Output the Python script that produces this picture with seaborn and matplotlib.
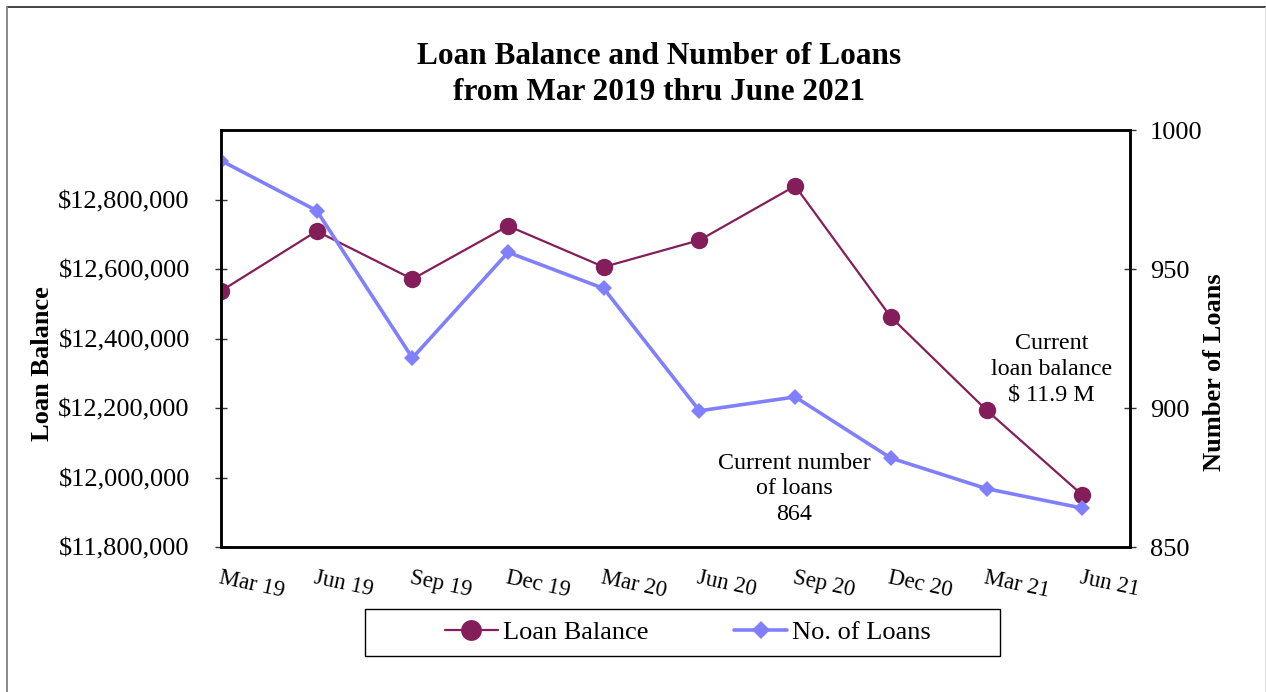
import matplotlib
matplotlib.use("Agg")
import matplotlib.pyplot as plt
from matplotlib.lines import Line2D
from matplotlib.patches import Rectangle
from matplotlib.ticker import FuncFormatter, FixedLocator
import seaborn as sns
import pandas as pd

# Quarterly data
periods = ["Mar 19", "Jun 19", "Sep 19", "Dec 19", "Mar 20",
           "Jun 20", "Sep 20", "Dec 20", "Mar 21", "Jun 21"]
loan_balance = [12537000, 12709000, 12571000, 12724000, 12606000,
                12683000, 12839000, 12462000, 12194000, 11950000]
num_loans = [989, 971, 918, 956, 943, 899, 904, 882, 871, 864]

balance_ticks = [11800000, 12000000, 12200000, 12400000, 12600000, 12800000]
loan_ticks = [850, 900, 950, 1000]

df = pd.DataFrame({"period": periods, "pos": range(len(periods)),
                   "balance": loan_balance, "loans": num_loans})

sns.set_style("white")
plt.rcParams["font.family"] = ["Liberation Serif", "DejaVu Serif"]
plt.rcParams["text.color"] = "black"
plt.rcParams["axes.labelcolor"] = "black"
plt.rcParams["xtick.color"] = "black"
plt.rcParams["ytick.color"] = "black"

bal_color = "#841E5A"
loan_color = "#8080FF"

fig = plt.figure(figsize=(12.66, 6.92), dpi=100)
ax = fig.add_axes([0.1746, 0.2095, 0.718, 0.6026])
ax2 = ax.twinx()

sns.lineplot(data=df, x="pos", y="balance", ax=ax, color=bal_color,
             linewidth=1.6, marker="o", markersize=12.5,
             markeredgecolor=bal_color, markeredgewidth=0, legend=False)
sns.lineplot(data=df, x="pos", y="loans", ax=ax2, color=loan_color,
             linewidth=2.6, marker="D", markersize=8.5,
             markeredgecolor=loan_color, markeredgewidth=0, legend=False)

ax.set_xlim(0, 9.5)
ax.set_ylim(11800000, 13000000)
ax2.set_ylim(850, 1000)

ax.xaxis.set_major_locator(FixedLocator(list(df["pos"])))
ax.set_xticklabels(periods, rotation=-12, ha="left", rotation_mode="anchor",
                   fontsize=16.5)
ax.yaxis.set_major_locator(FixedLocator(balance_ticks))
ax.yaxis.set_major_formatter(FuncFormatter(lambda v, p: f"${v:,.0f}"))
ax2.yaxis.set_major_locator(FixedLocator(loan_ticks))

ax.tick_params(axis="y", labelsize=19, direction="inout", length=9,
               width=1, color="#333333", pad=18)
ax.tick_params(axis="x", direction="inout", length=9, width=1,
               color="#333333", pad=10)
ax2.tick_params(axis="y", labelsize=19, direction="inout", length=9,
                width=1, color="#333333", pad=10)

for a in (ax, ax2):
    for s in a.spines.values():
        s.set_linewidth(1.8)
        s.set_color("black")
        s.set_visible(True)

ax.set_xlabel("")
ax.set_ylabel("Loan Balance", fontsize=19, fontweight="bold", labelpad=3)
ax2.set_ylabel("Number of Loans", fontsize=19, fontweight="bold", labelpad=0)
ax.yaxis.label.set_y(0.441)
ax2.yaxis.label.set_y(0.42)

fig.text(0.5205, 0.892, "Loan Balance and Number of Loans\nfrom Mar 2019 thru June 2021",
         ha="center", va="center", fontsize=22.5, fontweight="bold",
         linespacing=1.33)

# Callouts for the latest quarter
ax.text(8.68, 12312000, "Current\nloan balance\n$ 11.9 M", ha="center",
        va="center", fontsize=17.3, linespacing=1.3)
ax.text(5.99, 11967000, "Current number\nof loans\n864", ha="center",
        va="center", fontsize=17.3, linespacing=1.3)

# Legend below the plot, inside its own box
handles = [ax.get_lines()[0], ax2.get_lines()[0]]
leg = fig.legend(handles, ["Loan Balance", "No. of Loans"], loc="center",
                 bbox_to_anchor=(0.5435, 0.0866), ncol=2, fontsize=19,
                 frameon=False, handlelength=2.0,
                 handletextpad=0.2, columnspacing=3.25)
leg.legend_handles[0].set_markersize(15)
leg.legend_handles[1].set_markersize(9)
fig.add_artist(Rectangle((365 / 1266, 1 - 656 / 692), 635 / 1266, 47 / 692,
                         transform=fig.transFigure, fill=False,
                         edgecolor="black", linewidth=1.0))

# Outer figure border
fig.add_artist(Line2D([0.0055, 1.0], [0.9899, 0.9899], transform=fig.transFigure,
                      color="#222222", linewidth=1.2))
fig.add_artist(Line2D([0.0055, 0.0055], [0.0, 0.9899], transform=fig.transFigure,
                      color="#888888", linewidth=1.4))
fig.add_artist(Line2D([0.9995, 0.9995], [0.0, 0.9899], transform=fig.transFigure,
                      color="#dddddd", linewidth=0.8))

fig.savefig("out.png", dpi=100, facecolor="white")
